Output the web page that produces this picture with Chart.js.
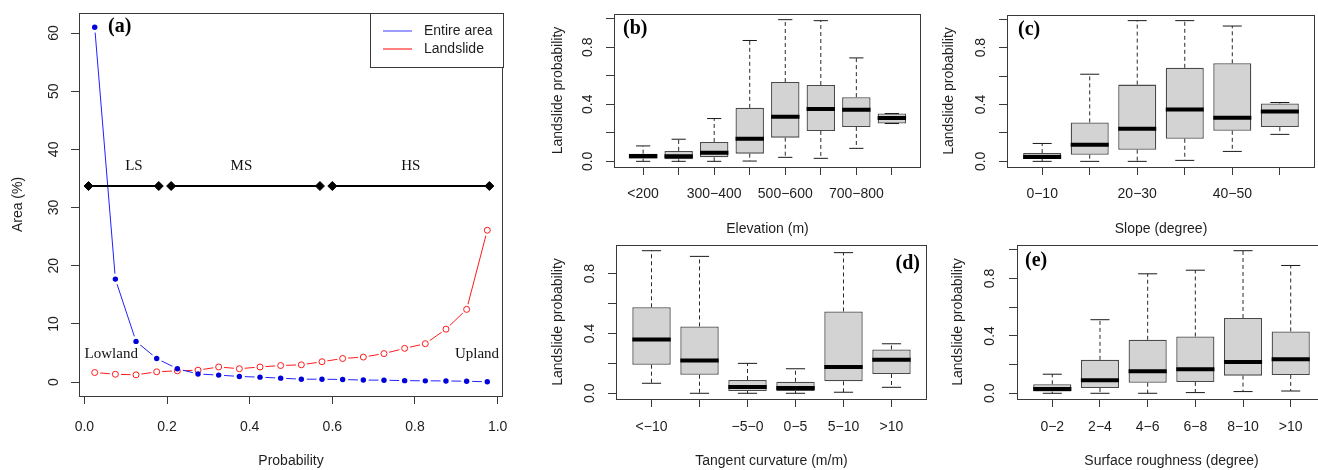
<!DOCTYPE html>
<html>
<head>
<meta charset="utf-8">
<script src="https://cdn.jsdelivr.net/npm/chart.js@4.4.1/dist/chart.umd.min.js"></script>
<style>
html, body { margin: 0; padding: 0; background: #fff; overflow: hidden; }
#wrap { position: relative; width: 1318px; height: 470px; overflow: hidden; background: #fff; }
.panel { position: absolute; }
</style>
</head>
<body>
<div id="wrap">
  <div class="panel" style="left:0;top:0;width:530px;height:470px"><canvas id="pa"></canvas></div>
  <div class="panel" style="left:530px;top:0;width:400px;height:240px"><canvas id="pb"></canvas></div>
  <div class="panel" style="left:920px;top:0;width:398px;height:240px"><canvas id="pc"></canvas></div>
  <div class="panel" style="left:530px;top:230px;width:400px;height:240px"><canvas id="pd"></canvas></div>
  <div class="panel" style="left:920px;top:230px;width:420px;height:240px"><canvas id="pe"></canvas></div>
</div>
<script>
// (a) area share per probability bin
var probBins = [0.025, 0.075, 0.125, 0.175, 0.225, 0.275, 0.325, 0.375, 0.425, 0.475,
                0.525, 0.575, 0.625, 0.675, 0.725, 0.775, 0.825, 0.875, 0.925, 0.975];
var areaEntire = [61.0, 17.7, 7.0, 4.05, 2.3, 1.4, 1.2, 0.97, 0.85, 0.68,
                  0.5, 0.5, 0.45, 0.35, 0.33, 0.25, 0.22, 0.2, 0.15, 0.05];
var areaLandslide = [1.65, 1.35, 1.25, 1.77, 1.94, 2.05, 2.6, 2.3, 2.6, 2.85,
                     2.97, 3.5, 4.06, 4.3, 4.9, 5.8, 6.6, 9.1, 12.5, 26.1];
var seriesNames = ['Entire area', 'Landslide'];

var zoneNames = ['LS', 'MS', 'HS'];
var zoneFrom = [0.01, 0.21, 0.60];
var zoneTo = [0.18, 0.57, 0.98];
var zoneLevel = 33.7;
var zoneTextX = [0.12, 0.38, 0.79];
var zoneTextY = 37.1;
var endNotes = ['Lowland', 'Upland'];
var endNoteX = [0.065, 0.95];
var endNoteY = 4.8;

var probTicks = [0, 0.2, 0.4, 0.6, 0.8, 1.0];
var areaTicks = [0, 10, 20, 30, 40, 50, 60];
var probYTicks = [0, 0.2, 0.4, 0.6, 0.8, 1.0];
var probYLabels = ['0.0', '', '0.4', '', '0.8', ''];

// (b) elevation
var elevCats = ['<200', '200\u2212300', '300\u2212400', '400\u2212500', '500\u2212600', '600\u2212700', '700\u2212800', '>800'];
var elevTicks = ['<200', '', '300\u2212400', '', '500\u2212600', '', '700\u2212800', ''];
var elevLo  = [0.0, 0.0, 0.0, 0.002, 0.028, 0.021, 0.091, 0.265];
var elevQ1  = [0.018, 0.014, 0.028, 0.054, 0.166, 0.213, 0.241, 0.265];
var elevMed = [0.037, 0.035, 0.061, 0.159, 0.312, 0.366, 0.361, 0.303];
var elevQ3  = [0.054, 0.073, 0.136, 0.375, 0.556, 0.535, 0.45, 0.335];
var elevHi  = [0.108, 0.155, 0.30, 0.847, 0.993, 0.986, 0.725, 0.335];

// (c) slope
var slopeCats = ['0\u221210', '10\u221220', '20\u221230', '30\u221240', '40\u221250', '>50'];
var slopeTicks = ['0\u221210', '', '20\u221230', '', '40\u221250', ''];
var slopeLo  = [0.0, 0.0, 0.0, 0.007, 0.07, 0.19];
var slopeQ1  = [0.016, 0.047, 0.082, 0.159, 0.215, 0.241];
var slopeMed = [0.03, 0.117, 0.229, 0.365, 0.307, 0.351];
var slopeQ3  = [0.058, 0.274, 0.54, 0.658, 0.69, 0.407];
var slopeHi  = [0.126, 0.613, 0.99, 0.99, 0.952, 0.414];

// (d) tangent curvature
var curvCats = ['<\u221210', '\u221210\u2212\u22125', '\u22125\u22120', '0\u22125', '5\u221210', '>10'];
var curvTicks = ['<\u221210', '', '\u22125\u22120', '0\u22125', '5\u221210', '>10'];
var curvLo  = [0.067, 0.0, 0.0, 0.0, 0.007, 0.04];
var curvQ1  = [0.191, 0.124, 0.015, 0.015, 0.08, 0.129];
var curvMed = [0.36, 0.22, 0.042, 0.035, 0.175, 0.224];
var curvQ3  = [0.575, 0.447, 0.089, 0.077, 0.547, 0.293];
var curvHi  = [0.953, 0.915, 0.2, 0.164, 0.94, 0.331];

// (e) surface roughness
var roughCats = ['0\u22122', '2\u22124', '4\u22126', '6\u22128', '8\u221210', '>10'];
var roughTicks = ['0\u22122', '2\u22124', '4\u22126', '6\u22128', '8\u221210', '>10'];
var roughLo  = [0.0, 0.0, 0.0, 0.005, 0.012, 0.016];
var roughQ1  = [0.012, 0.037, 0.074, 0.079, 0.123, 0.128];
var roughMed = [0.03, 0.091, 0.154, 0.168, 0.219, 0.238];
var roughQ3  = [0.063, 0.233, 0.373, 0.396, 0.525, 0.431];
var roughHi  = [0.133, 0.513, 0.833, 0.858, 0.994, 0.891];

(function(window){
    var Chart = window.Chart;
    var SANS = '"Liberation Sans", Arial, sans-serif';
    var SERIF = '"Liberation Serif", "Times New Roman", serif';
    var INK = '#1e1e1e';
    var FRAME = '#3a3a3a';
    var BLUE_LINE = '#2020ff', RED_LINE = '#ff1a1a';
    var legendColors = ['#5c5cff', '#ff2a2a'];

    // R-like box around the plot region, plus the panel letter
    var framePlugin = {
        id: 'frame',
        afterDatasetsDraw: function(chart, args, opts) {
            var a = chart.chartArea, ctx = chart.ctx;
            ctx.save();
            ctx.strokeStyle = FRAME;
            ctx.lineWidth = 1;
            ctx.strokeRect(Math.round(a.left) + 0.5, Math.round(a.top) + 0.5,
                Math.round(a.right - a.left) - 1, Math.round(a.bottom - a.top));
            if (opts.letter) {
                ctx.fillStyle = '#000';
                ctx.font = 'bold 20px ' + SERIF;
                ctx.textBaseline = 'middle';
                if (opts.align === 'right') {
                    ctx.textAlign = 'right';
                    ctx.fillText(opts.letter, a.right - opts.dx, a.top + opts.dy);
                } else {
                    ctx.textAlign = 'left';
                    ctx.fillText(opts.letter, a.left + opts.dx, a.top + opts.dy);
                }
            }
            ctx.restore();
        }
    };

    // text notes and boxed legend of panel (a)
    var notesPlugin = {
        id: 'notes',
        afterDatasetsDraw: function(chart, args, opts) {
            if (!opts.show) return;
            var ctx = chart.ctx, a = chart.chartArea;
            var xs = chart.scales.x, ys = chart.scales.y;
            ctx.save();
            ctx.fillStyle = '#111';
            ctx.font = '15px ' + SERIF;
            ctx.textAlign = 'center';
            ctx.textBaseline = 'middle';
            zoneNames.forEach(function(t, i) {
                ctx.fillText(t, xs.getPixelForValue(zoneTextX[i]), ys.getPixelForValue(zoneTextY));
            });
            endNotes.forEach(function(t, i) {
                ctx.fillText(t, xs.getPixelForValue(endNoteX[i]), ys.getPixelForValue(endNoteY));
            });

            var w = 133, h = 54;
            var x0 = Math.round(a.right - w), y0 = Math.round(a.top);
            ctx.fillStyle = '#fff';
            ctx.fillRect(x0, y0, w, h);
            ctx.strokeStyle = FRAME;
            ctx.lineWidth = 1;
            ctx.strokeRect(x0 + 0.5, y0 + 0.5, w, h);
            ctx.font = '14px ' + SANS;
            ctx.textAlign = 'left';
            seriesNames.forEach(function(name, i) {
                var y = y0 + 18 + i * 18;
                ctx.strokeStyle = legendColors[i];
                ctx.lineWidth = 1.2;
                ctx.beginPath();
                ctx.moveTo(x0 + 13, y);
                ctx.lineTo(x0 + 42, y);
                ctx.stroke();
                ctx.fillStyle = INK;
                ctx.fillText(name, x0 + 54, y);
            });
            ctx.restore();
        }
    };

    Chart.register(framePlugin, notesPlugin);

    function fixWidth(w) {
        return function(s) { s.width = w; s.paddingTop = 0; s.paddingBottom = 0; };
    }
    function fixHeight(h) {
        return function(s) { s.height = h; s.paddingLeft = 0; s.paddingRight = 0; };
    }
    function setTicks(values) {
        return function(s) {
            s.ticks = values.filter(function(v) { return v >= s.min && v <= s.max; })
                .map(function(v) { return {value: v}; });
        };
    }

    function yAxis(o, min, max, values, labelFor) {
        return {
            type: 'linear', min: min, max: max, offset: false,
            afterBuildTicks: setTicks(values),
            afterFit: fixWidth(o.yWidth),
            border: {display: false},
            grid: {drawOnChartArea: false, offset: false, tickLength: 8, color: FRAME},
            ticks: {
                minRotation: 90, maxRotation: 90, crossAlign: 'center',
                padding: o.yPad, color: INK, font: {family: SANS, size: 14},
                callback: labelFor
            },
            title: {display: true, text: o.yTitle, color: INK,
                font: {family: SANS, size: 14}, padding: {top: o.yTitlePad, bottom: 0}}
        };
    }

    function xAxis(o, min, max, values, labelFor) {
        return {
            type: 'linear', min: min, max: max, offset: false,
            afterBuildTicks: setTicks(values),
            afterFit: fixHeight(o.xHeight),
            border: {display: false},
            grid: {drawOnChartArea: false, offset: false, tickLength: 8, color: FRAME},
            ticks: {
                autoSkip: false, maxRotation: 0, padding: o.xPad,
                color: INK, font: {family: SANS, size: 14},
                callback: labelFor
            },
            title: {display: true, text: o.xTitle, color: INK,
                font: {family: SANS, size: 14}, padding: {top: 0, bottom: o.xTitlePad}}
        };
    }

    function probChart(element) {
        var span = probBins[probBins.length - 1] - probBins[0];
        var lo = Math.min.apply(null, areaEntire), hi = Math.max.apply(null, areaEntire);
        var pts = function(vals) {
            return probBins.map(function(p, i) { return {x: p, y: vals[i]}; });
        };
        var zones = zoneNames.map(function(z, i) {
            return {
                label: z, data: [{x: zoneFrom[i], y: zoneLevel}, {x: zoneTo[i], y: zoneLevel}],
                borderColor: '#000', borderWidth: 2, pointStyle: 'rectRot', pointRadius: 4.5,
                pointBackgroundColor: '#000', pointBorderColor: '#000', pointBorderWidth: 1, order: 0
            };
        });
        var o = {yWidth: 79, yPad: 9, yTitle: 'Area (%)', yTitlePad: 10,
                 xHeight: 74, xPad: 15, xTitle: 'Probability', xTitlePad: 0};
        return new Chart(element.getContext('2d'), {
            type: 'line',
            data: {
                datasets: [
                    {label: seriesNames[0], data: pts(areaEntire), borderColor: BLUE_LINE, borderWidth: 1,
                     pointRadius: 0, tension: 0, order: 6},
                    {label: seriesNames[1], data: pts(areaLandslide), borderColor: RED_LINE, borderWidth: 1,
                     pointRadius: 0, tension: 0, order: 6},
                    {label: 'halo', data: pts(areaEntire), showLine: false, pointRadius: 5.5,
                     pointBackgroundColor: '#fff', pointBorderWidth: 0, order: 4},
                    {label: 'halo', data: pts(areaLandslide), showLine: false, pointRadius: 5.5,
                     pointBackgroundColor: '#fff', pointBorderWidth: 0, order: 4},
                    {label: 'pts', data: pts(areaEntire), showLine: false, pointRadius: 2.7,
                     pointBackgroundColor: '#0000dd', pointBorderColor: '#0000dd', pointBorderWidth: 0, order: 2},
                    {label: 'pts', data: pts(areaLandslide), showLine: false, pointRadius: 3,
                     pointBackgroundColor: '#fff', pointBorderColor: RED_LINE, pointBorderWidth: 1, order: 2}
                ].concat(zones)
            },
            options: {
                responsive: true, maintainAspectRatio: false, animation: false, events: [],
                layout: {padding: {top: 13, right: 27, left: 0, bottom: 0}},
                plugins: {
                    legend: {display: false}, tooltip: {enabled: false},
                    frame: {letter: '(a)', align: 'left', dx: 29, dy: 14},
                    notes: {show: true}
                },
                scales: {
                    x: xAxis(o, probBins[0] - 0.04 * span, probBins[probBins.length - 1] + 0.04 * span, probTicks,
                        function(v) { return v.toFixed(1); }),
                    y: yAxis(o, lo - 0.04 * (hi - lo), hi + 0.04 * (hi - lo), areaTicks,
                        function(v) { return String(v); })
                }
            }
        });
    }

    function boxChart(element, o) {
        var n = o.cats.length;
        var lo = Math.min.apply(null, o.lo), hi = Math.max.apply(null, o.hi);
        var boxes = [], whisk = [], caps = [], meds = [], pos = [];
        for (var i = 0; i < n; i++) {
            var x = i + 1;
            pos.push(x);
            boxes.push({x: x, y: [o.q1[i], o.q3[i]]});
            whisk.push({x: x, y: o.q3[i]}, {x: x, y: o.hi[i]}, {x: x, y: null},
                       {x: x, y: o.q1[i]}, {x: x, y: o.lo[i]}, {x: x, y: null});
            caps.push({x: x - 0.2, y: o.hi[i]}, {x: x + 0.2, y: o.hi[i]}, {x: x, y: null},
                      {x: x - 0.2, y: o.lo[i]}, {x: x + 0.2, y: o.lo[i]}, {x: x, y: null});
            meds.push({x: x - 0.4, y: o.med[i]}, {x: x + 0.4, y: o.med[i]}, {x: x, y: null});
        }
        var pad = 0.04 * n;
        return new Chart(element.getContext('2d'), {
            type: 'bar',
            data: {
                datasets: [
                    {type: 'bar', label: 'box', data: boxes, backgroundColor: '#d3d3d3', borderColor: '#4a4a4a',
                     borderWidth: 1.3, borderSkipped: false, categoryPercentage: 1, barPercentage: 0.8, order: 5},
                    {type: 'line', label: 'whisker', data: whisk, borderColor: '#2a2a2a', borderWidth: 1,
                     borderDash: [4, 3], pointRadius: 0, spanGaps: false, order: 3},
                    {type: 'line', label: 'cap', data: caps, borderColor: '#1a1a1a', borderWidth: 1,
                     pointRadius: 0, spanGaps: false, order: 2},
                    {type: 'line', label: 'median', data: meds, borderColor: '#000', borderWidth: 4,
                     pointRadius: 0, spanGaps: false, order: 1}
                ]
            },
            options: {
                responsive: true, maintainAspectRatio: false, animation: false, events: [],
                layout: {padding: {top: o.padTop, right: o.padRight, left: 0, bottom: 0}},
                plugins: {
                    legend: {display: false}, tooltip: {enabled: false},
                    frame: {letter: o.letter, align: o.letterAlign, dx: o.letterDx, dy: o.letterDy}
                },
                scales: {
                    x: xAxis(o, 0.5 - pad, n + 0.5 + pad, pos,
                        function(v) { return o.ticks[Math.round(v) - 1]; }),
                    y: yAxis(o, lo - 0.04 * (hi - lo), hi + 0.04 * (hi - lo), probYTicks,
                        function(v) { return probYLabels[Math.round(v * 5)]; })
                }
            }
        });
    }

    probChart(document.getElementById('pa'));

    boxChart(document.getElementById('pb'), {
        cats: elevCats, ticks: elevTicks, lo: elevLo, q1: elevQ1, med: elevMed, q3: elevQ3, hi: elevHi,
        letter: '(b)', letterAlign: 'left', letterDx: 9, letterDy: 15,
        padTop: 14, padRight: 9, yWidth: 84, yPad: 8, yTitle: 'Landslide probability', yTitlePad: 20,
        xHeight: 73, xPad: 11, xTitle: 'Elevation (m)', xTitlePad: 2
    });
    boxChart(document.getElementById('pc'), {
        cats: slopeCats, ticks: slopeTicks, lo: slopeLo, q1: slopeQ1, med: slopeMed, q3: slopeQ3, hi: slopeHi,
        letter: '(c)', letterAlign: 'left', letterDx: 11, letterDy: 15,
        padTop: 15, padRight: 3, yWidth: 87, yPad: 8, yTitle: 'Landslide probability', yTitlePad: 21,
        xHeight: 73, xPad: 11, xTitle: 'Slope (degree)', xTitlePad: 2
    });
    boxChart(document.getElementById('pd'), {
        cats: curvCats, ticks: curvTicks, lo: curvLo, q1: curvQ1, med: curvMed, q3: curvQ3, hi: curvHi,
        letter: '(d)', letterAlign: 'right', letterDx: 7, letterDy: 19,
        padTop: 15, padRight: 3, yWidth: 86, yPad: 8, yTitle: 'Landslide probability', yTitlePad: 20,
        xHeight: 71, xPad: 12, xTitle: 'Tangent curvature (m/m)', xTitlePad: 0
    });
    boxChart(document.getElementById('pe'), {
        cats: roughCats, ticks: roughTicks, lo: roughLo, q1: roughQ1, med: roughMed, q3: roughQ3, hi: roughHi,
        letter: '(e)', letterAlign: 'left', letterDx: 8, letterDy: 16,
        padTop: 15, padRight: 14, yWidth: 97, yPad: 9, yTitle: 'Landslide probability', yTitlePad: 30,
        xHeight: 71, xPad: 12, xTitle: 'Surface roughness (degree)', xTitlePad: 0
    });
})(window);
</script>
</body>
</html>
